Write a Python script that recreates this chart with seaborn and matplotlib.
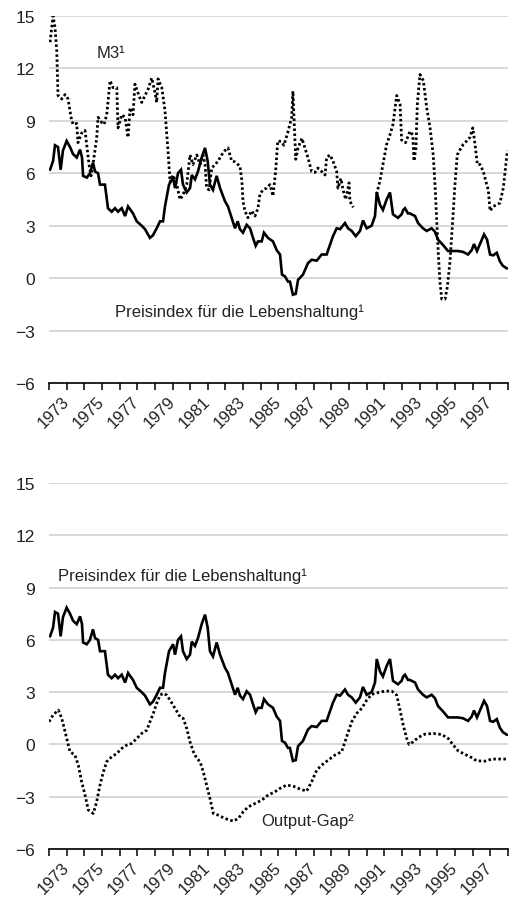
import numpy as np
import pandas as pd
import matplotlib
matplotlib.use("Agg")
import matplotlib.pyplot as plt
import seaborn as sns

# Preisindex fuer die Lebenshaltung (Vorjahresveraenderung in %)
cpi_year = [1972.06, 1972.23, 1972.34, 1972.51, 1972.66, 1972.79, 1973.00, 1973.19, 1973.36,
            1973.57, 1973.76, 1973.87, 1973.93, 1974.14, 1974.32, 1974.49, 1974.61, 1974.78,
            1974.89, 1975.17, 1975.34, 1975.55, 1975.74, 1975.91, 1976.12, 1976.31, 1976.48,
            1976.76, 1976.97, 1977.25, 1977.44, 1977.72, 1977.89, 1978.10, 1978.29, 1978.46,
            1978.57, 1978.80, 1979.03, 1979.14, 1979.31, 1979.48, 1979.59, 1979.80, 1979.99,
            1980.09, 1980.27, 1980.44, 1980.65, 1980.84, 1980.99, 1981.12, 1981.29, 1981.50,
            1981.69, 1981.97, 1982.14, 1982.35, 1982.54, 1982.69, 1982.82, 1982.99, 1983.20,
            1983.39, 1983.56, 1983.71, 1983.84, 1984.05, 1984.18, 1984.41, 1984.69, 1984.90,
            1985.09, 1985.20, 1985.37, 1985.54, 1985.65, 1985.82, 1985.98, 1986.11, 1986.39,
            1986.67, 1986.88, 1987.17, 1987.45, 1987.73, 1987.92, 1988.09, 1988.30, 1988.49,
            1988.77, 1988.94, 1989.15, 1989.38, 1989.62, 1989.79, 1990.00, 1990.28, 1990.47,
            1990.57, 1990.75, 1990.92, 1991.13, 1991.32, 1991.49, 1991.77, 1991.98, 1992.07,
            1992.17, 1992.34, 1992.45, 1992.74, 1992.91, 1993.19, 1993.40, 1993.68, 1993.87,
            1994.04, 1994.32, 1994.61, 1994.89, 1995.17, 1995.46, 1995.74, 1995.95, 1996.08,
            1996.25, 1996.52, 1996.65, 1996.82, 1996.99, 1997.16, 1997.37, 1997.55, 1997.72,
            1997.95]
cpi_value = [6.2, 6.7, 7.6, 7.5, 6.2, 7.3, 7.85, 7.5, 7.1,
             6.9, 7.35, 6.9, 5.85, 5.75, 6.0, 6.6, 6.1, 6.0,
             5.35, 5.35, 4.0, 3.8, 4.0, 3.8, 4.0, 3.55, 4.1,
             3.7, 3.25, 3.0, 2.8, 2.3, 2.45, 2.85, 3.25, 3.25,
             4.1, 5.35, 5.75, 5.15, 6.0, 6.2, 5.35, 4.9, 5.15,
             5.9, 5.65, 6.1, 6.9, 7.45, 6.7, 5.35, 5.05, 5.85,
             5.15, 4.4, 4.1, 3.45, 2.85, 3.25, 2.8, 2.6, 3.05,
             2.85, 2.3, 1.85, 2.1, 2.1, 2.6, 2.3, 2.1, 1.6,
             1.35, 0.2, 0.1, -0.2, -0.2, -0.95, -0.9, -0.1, 0.2,
             0.85, 1.05, 1.0, 1.35, 1.35, 1.9, 2.4, 2.85, 2.8,
             3.15, 2.85, 2.7, 2.4, 2.7, 3.3, 2.85, 3.0, 3.55,
             4.9, 4.2, 3.9, 4.5, 4.9, 3.65, 3.45, 3.65, 3.9,
             4.0, 3.7, 3.7, 3.55, 3.15, 2.85, 2.7, 2.85, 2.65,
             2.2, 1.9, 1.55, 1.55, 1.55, 1.5, 1.35, 1.6, 1.95,
             1.55, 2.2, 2.5, 2.2, 1.35, 1.3, 1.45, 0.95, 0.7,
             0.55]

# Geldmenge M3 (Westdeutschland bis 1989, danach Gesamtdeutschland)
m3_year_west = [1972.06, 1972.23, 1972.34, 1972.44, 1972.51, 1972.72, 1972.91, 1973.08, 1973.25,
                1973.36, 1973.57, 1973.64, 1973.85, 1974.04, 1974.14, 1974.27, 1974.38, 1974.49,
                1974.70, 1974.78, 1974.99, 1975.12, 1975.27, 1975.46, 1975.63, 1975.84, 1975.91,
                1976.12, 1976.31, 1976.48, 1976.59, 1976.76, 1976.87, 1977.04, 1977.25, 1977.44,
                1977.61, 1977.82, 1978.01, 1978.10, 1978.18, 1978.39, 1978.57, 1978.73, 1978.86,
                1979.03, 1979.24, 1979.42, 1979.59, 1979.80, 1979.99, 1980.16, 1980.37, 1980.56,
                1980.73, 1980.84, 1980.93, 1981.07, 1981.22, 1981.41, 1981.58, 1981.78, 1981.97,
                1982.14, 1982.35, 1982.54, 1982.82, 1982.93, 1982.99, 1983.10, 1983.27, 1983.48,
                1983.67, 1983.84, 1983.95, 1984.12, 1984.33, 1984.52, 1984.69, 1984.84, 1984.96,
                1985.18, 1985.31, 1985.52, 1985.75, 1985.82, 1985.88, 1985.98, 1986.11, 1986.33,
                1986.50, 1986.67, 1986.88, 1987.07, 1987.24, 1987.45, 1987.64, 1987.73, 1987.92,
                1988.09, 1988.30, 1988.37, 1988.54, 1988.66, 1988.81, 1989.00, 1989.05, 1989.24]
m3_value_west = [13.5, 15.0, 14.35, 13.0, 10.45, 10.25, 10.5, 10.25, 9.2,
                 8.8, 8.85, 7.75, 8.3, 8.45, 7.6, 6.5, 5.85, 6.5,
                 8.0, 9.2, 8.9, 8.8, 9.35, 11.3, 10.9, 10.9, 8.6,
                 9.35, 9.2, 8.05, 9.75, 9.35, 11.1, 10.6, 10.05, 10.45,
                 10.8, 11.45, 10.6, 10.05, 11.4, 10.9, 9.6, 7.45, 5.5,
                 5.9, 5.35, 4.5, 4.75, 5.35, 7.05, 6.5, 7.05, 6.5,
                 7.05, 6.5, 5.15, 5.05, 6.3, 6.5, 6.7, 7.05, 7.3,
                 7.45, 6.7, 6.65, 6.4, 5.55, 4.4, 3.85, 3.45, 3.85,
                 3.55, 4.0, 4.8, 5.05, 5.15, 5.35, 4.7, 6.1, 7.85,
                 7.8, 7.6, 8.3, 9.2, 10.7, 9.2, 6.8, 7.45, 8.0,
                 7.45, 6.9, 6.1, 6.05, 6.3, 6.1, 5.9, 6.9, 7.05,
                 6.7, 6.1, 5.15, 5.7, 5.05, 4.5, 5.45, 4.4, 4.05]
m3_year_all = [1990.56, 1990.75, 1990.92, 1991.13, 1991.32, 1991.49, 1991.70, 1991.89, 1991.98,
               1992.20, 1992.45, 1992.61, 1992.68, 1992.79, 1992.87, 1993.02, 1993.21, 1993.40,
               1993.59, 1993.77, 1993.87, 1993.97, 1994.06, 1994.15, 1994.25, 1994.44, 1994.57,
               1994.72, 1994.87, 1995.00, 1995.13, 1995.29, 1995.47, 1995.67, 1995.85, 1996.01,
               1996.14, 1996.27, 1996.42, 1996.61, 1996.80, 1996.89, 1996.99, 1997.17, 1997.37,
               1997.55, 1997.74, 1997.97]
m3_value_all = [4.8, 5.55, 6.5, 7.65, 8.2, 8.8, 10.45, 9.95, 7.9,
                7.75, 8.4, 8.2, 6.7, 7.45, 9.95, 11.65, 11.3, 9.75,
                8.6, 7.05, 5.35, 3.25, 1.35, -0.2, -1.2, -1.2, -0.5,
                0.95, 3.25, 5.35, 7.05, 7.35, 7.65, 7.85, 8.05, 8.6,
                7.65, 6.5, 6.5, 6.1, 5.35, 5.05, 3.85, 4.1, 4.2,
                4.3, 5.15, 7.3]

# Output-Gap (in % des Produktionspotenzials)
gap_year = [1972.00, 1972.24, 1972.53, 1972.72, 1972.91, 1973.19, 1973.47, 1973.66, 1973.85,
            1974.04, 1974.23, 1974.51, 1974.70, 1974.89, 1975.08, 1975.27, 1975.55, 1975.84,
            1976.12, 1976.40, 1976.69, 1976.97, 1977.25, 1977.54, 1977.72, 1977.91, 1978.10,
            1978.29, 1978.48, 1978.67, 1978.86, 1979.14, 1979.42, 1979.61, 1979.80, 1979.99,
            1980.18, 1980.37, 1980.56, 1980.74, 1980.93, 1981.12, 1981.31, 1981.59, 1981.97,
            1982.44, 1982.73, 1983.01, 1983.29, 1983.67, 1984.05, 1984.42, 1984.80, 1985.09,
            1985.47, 1985.84, 1986.22, 1986.60, 1986.88, 1987.17, 1987.45, 1987.82, 1988.20,
            1988.58, 1988.77, 1988.96, 1989.15, 1989.43, 1989.72, 1990.00, 1990.28, 1990.66,
            1991.04, 1991.42, 1991.70, 1991.89, 1992.07, 1992.27, 1992.40, 1992.64, 1992.92,
            1993.30, 1993.77, 1994.25, 1994.62, 1994.91, 1995.19, 1995.57, 1995.95, 1996.23,
            1996.70, 1997.08, 1997.46, 1997.93]
gap_value = [1.3, 1.7, 1.97, 1.5, 0.73, -0.42, -0.61, -1.19, -2.14,
             -2.9, -3.77, -3.96, -3.29, -2.33, -1.57, -0.99, -0.71, -0.52,
             -0.23, -0.04, 0.06, 0.34, 0.63, 0.82, 1.3, 1.78, 2.35,
             2.83, 2.93, 2.83, 2.54, 2.07, 1.59, 1.49, 0.92, 0.15,
             -0.42, -0.8, -0.99, -1.57, -2.33, -3.1, -3.96, -4.06, -4.25,
             -4.4, -4.25, -3.86, -3.58, -3.39, -3.2, -2.9, -2.72, -2.52,
             -2.33, -2.4, -2.56, -2.68, -2.14, -1.47, -1.19, -0.9, -0.61,
             -0.42, 0.15, 0.73, 1.3, 1.78, 2.07, 2.54, 2.87, 2.98,
             3.06, 3.06, 2.83, 1.97, 1.11, 0.34, 0.0, 0.15, 0.4,
             0.59, 0.63, 0.57, 0.34, -0.04, -0.38, -0.57, -0.76, -0.94,
             -0.96, -0.84, -0.84, -0.84]

years = list(range(1972, 1999))
year_labels = [str(y) if y % 2 == 1 else "" for y in years]
y_ticks = [-6, -3, 0, 3, 6, 9, 12, 15]

sns.set_theme(style="white")
plt.rcParams["font.family"] = ["Liberation Sans", "DejaVu Sans"]
plt.rcParams["axes.unicode_minus"] = True

cpi = pd.DataFrame({"jahr": cpi_year, "wert": cpi_value})
m3 = pd.concat([
    pd.DataFrame({"jahr": m3_year_west, "wert": m3_value_west, "teil": 0}),
    pd.DataFrame({"jahr": m3_year_all, "wert": m3_value_all, "teil": 1}),
])
gap = pd.DataFrame({"jahr": gap_year, "wert": gap_value})

solid_kw = dict(color="black", linewidth=1.9, solid_joinstyle="miter")
dot_kw = dict(color="black", linewidth=2.0, linestyle=(0, (0.9, 0.9)), dash_capstyle="butt")

fig = plt.figure(figsize=(5.11, 9.03), dpi=100)
ax1 = fig.add_axes([0.0959, 0.5748, 0.898, 0.4064])
ax2 = fig.add_axes([0.0959, 0.0587, 0.898, 0.4053])

# oben: M3 und Preisindex
sns.lineplot(data=m3, x="jahr", y="wert", units="teil", estimator=None, sort=False,
             ax=ax1, **dot_kw)
sns.lineplot(data=cpi, x="jahr", y="wert", estimator=None, sort=False, ax=ax1, **solid_kw)

# unten: Output-Gap und Preisindex
sns.lineplot(data=gap, x="jahr", y="wert", estimator=None, sort=False, ax=ax2, **dot_kw)
sns.lineplot(data=cpi, x="jahr", y="wert", estimator=None, sort=False, ax=ax2, **solid_kw)

for ax in (ax1, ax2):
    ax.set_xlim(1972, 1998)
    ax.set_ylim(-6, 15)
    ax.set_xlabel("")
    ax.set_ylabel("")
    ax.set_yticks(y_ticks)
    ax.set_yticklabels([str(v).replace("-", "\u2212") for v in y_ticks])
    ax.set_xticks(years)
    ax.set_xticklabels(year_labels, rotation=45, ha="right", va="center",
                       rotation_mode="anchor")
    ax.yaxis.grid(True, color="#d6d6d6", linewidth=1.3)
    ax.set_axisbelow(True)
    for side in ("left", "right", "top"):
        ax.spines[side].set_visible(False)
    ax.spines["bottom"].set_color("black")
    ax.spines["bottom"].set_linewidth(1.2)
    ax.spines["bottom"].set_zorder(5)
    ax.tick_params(axis="y", length=0, pad=10, labelsize=12.5, labelcolor="#222222")
    ax.tick_params(axis="x", direction="out", length=5, width=1.1, color="black",
                   pad=6, labelsize=12, labelcolor="#222222", bottom=True)

ax1.text(1974.7, 12.9, "M3\u00b9", fontsize=12, ha="left", va="center", color="#222222")
ax1.text(1975.74, -1.9, "Preisindex für die Lebenshaltung\u00b9", fontsize=12,
         ha="left", va="center", color="#222222")
ax2.text(1972.51, 9.7, "Preisindex für die Lebenshaltung\u00b9", fontsize=12,
         ha="left", va="center", color="#222222")
ax2.text(1984.01, -4.36, "Output-Gap\u00b2", fontsize=12, ha="left", va="center",
         color="#222222")

fig.savefig("out.png", dpi=100)
